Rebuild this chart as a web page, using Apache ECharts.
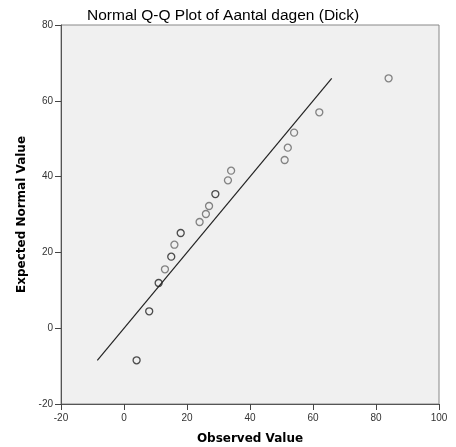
<!DOCTYPE html>
<html>
<head>
<meta charset="utf-8">
<script src="https://cdn.jsdelivr.net/npm/echarts@6/dist/echarts.min.js"></script>
<style>
  html, body { margin: 0; padding: 0; background: #fff; }
  #chart { width: 456px; height: 447px; }
</style>
</head>
<body>
<div id="chart"></div>
<script>
//--------------------------------
// Data
//--------------------------------
const observed = [4, 8, 11, 13, 15, 16, 18, 24, 26, 27, 29, 33, 34, 51, 52, 54, 62, 84];
const expected = [-8.47, 4.46, 11.93, 15.54, 18.87, 22.03, 25.12, 28.02, 30.13, 32.24, 35.4, 39.02, 41.56, 44.38, 47.63, 51.6, 56.97, 65.94];
// number of cases sharing a value (ties are drawn on top of each other)
const ties = [2, 2, 2, 1, 2, 1, 2, 1, 1, 1, 2, 1, 1, 1, 1, 1, 1, 1];
const refLine = [-8.47, 65.94];

//--------------------------------
// Chart
//--------------------------------
const myChart = echarts.init(document.getElementById('chart'));

let points = [];
for (let i = 0; i < observed.length; i++) {
    points.push({
        value: [observed[i], expected[i]],
        itemStyle: { borderColor: ties[i] > 1 ? '#222' : '#666' }
    });
}

let options = {
    animation: false,
    textStyle: { fontFamily: 'Liberation Sans, Arial, sans-serif' },
    title: {
        text: 'Normal Q-Q Plot of Aantal dagen (Dick)',
        left: 82,
        top: 3,
        textStyle: { fontSize: 15.5, fontWeight: 'normal', color: '#000', fontFamily: 'Liberation Sans, Arial, sans-serif' }
    },
    grid: {
        left: 61,
        right: 17,
        top: 25,
        bottom: 43,
        outerBoundsMode: 'none',
        show: true,
        backgroundColor: '#f0f0f0',
        borderColor: '#888',
        borderWidth: 1
    },
    xAxis: {
        type: 'value',
        min: -20,
        max: 100,
        interval: 20,
        name: 'Observed Value',
        nameLocation: 'middle',
        nameGap: 29,
        nameTextStyle: { fontSize: 12, fontWeight: 'bold', color: '#000', fontFamily: 'DejaVu Sans, sans-serif' },
        axisLine: { onZero: false, lineStyle: { color: '#555', width: 1 } },
        axisTick: { show: true, length: 6, lineStyle: { color: '#444' } },
        axisLabel: { fontSize: 10, color: '#333', margin: 9 },
        splitLine: { show: false }
    },
    yAxis: {
        type: 'value',
        min: -20,
        max: 80,
        interval: 20,
        name: 'Expected Normal Value',
        nameLocation: 'middle',
        nameGap: 25,
        nameTextStyle: { fontSize: 12, fontWeight: 'bold', color: '#000', fontFamily: 'DejaVu Sans, sans-serif' },
        axisLine: { onZero: false, lineStyle: { color: '#555', width: 1 } },
        axisTick: { show: true, length: 6, lineStyle: { color: '#444' } },
        axisLabel: { fontSize: 10, color: '#333', margin: 8 },
        splitLine: { show: false }
    },
    series: [
        {
            name: 'reference',
            type: 'line',
            data: [[refLine[0], refLine[0]], [refLine[1], refLine[1]]],
            showSymbol: false,
            silent: true,
            lineStyle: { color: '#222', width: 1.2 }
        },
        {
            name: 'cases',
            type: 'scatter',
            symbol: 'circle',
            symbolSize: 7,
            data: points,
            itemStyle: { color: 'rgba(0,0,0,0)', borderColor: '#666', borderWidth: 1.3 }
        }
    ]
};
myChart.setOption(options);
</script>
</body>
</html>
